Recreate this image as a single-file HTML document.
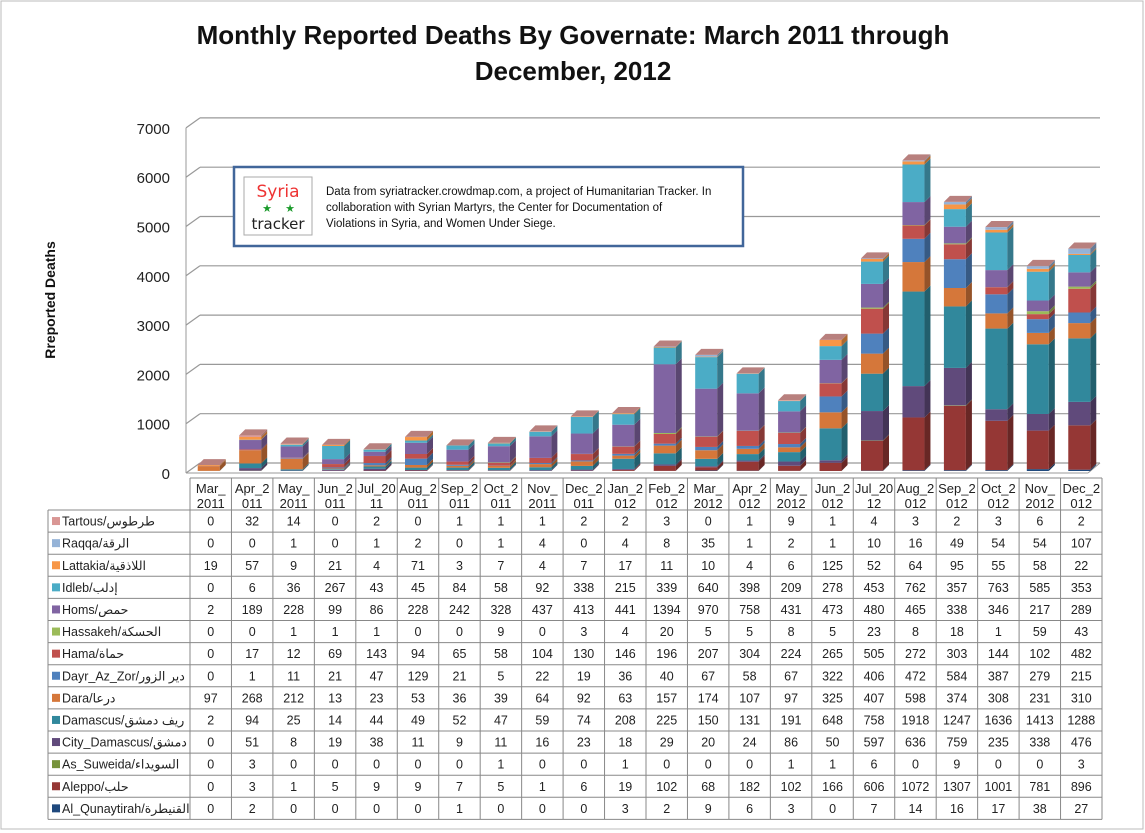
<!DOCTYPE html>
<html><head><meta charset="utf-8"><style>
body{margin:0;background:#fff;}
svg{display:block;font-family:"Liberation Sans","DejaVu Sans",sans-serif;}
</style></head><body>
<svg id="chart" width="1145" height="833" viewBox="0 0 1145 833" xmlns="http://www.w3.org/2000/svg">
<rect x="1" y="1" width="1142" height="828" fill="#fff" stroke="#bbb"/>
<text x="573" y="44" text-anchor="middle" font-size="26" font-weight="bold" fill="#111">Monthly Reported Deaths By Governate: March 2011 through</text>
<text x="573" y="80" text-anchor="middle" font-size="26" font-weight="bold" fill="#111">December, 2012</text>
<text transform="translate(55,300) rotate(-90)" text-anchor="middle" font-size="14" font-weight="bold" fill="#111">Rreported Deaths</text>
<g id="grid"></g>
<g id="bars"></g>
<g id="table"></g>
<g>
<rect x="234" y="167" width="509" height="79" fill="#fff" stroke="#41669a" stroke-width="2.5"/>
<rect x="244" y="177" width="68" height="58" fill="#fff" stroke="#aaa"/>
<text x="278" y="197" text-anchor="middle" font-size="17" fill="#e33" font-family="DejaVu Sans, sans-serif">Syria</text>
<text x="267" y="212" text-anchor="middle" font-size="11" fill="#1a9a2a">★</text>
<text x="290" y="212" text-anchor="middle" font-size="11" fill="#1a9a2a">★</text>
<text x="278" y="229" text-anchor="middle" font-size="15" fill="#222" font-family="DejaVu Sans, sans-serif">tracker</text>
<text x="326" y="195" font-size="11.5" fill="#111"><tspan x="326" y="195">Data from syriatracker.crowdmap.com, a project of Humanitarian Tracker. In</tspan><tspan x="326" y="211">collaboration with Syrian Martyrs, the Center for Documentation of</tspan><tspan x="326" y="227">Violations in Syria, and Women Under Siege.</tspan></text>
</g>
</svg>
<script>
const months1 = ["Mar_","Apr_2","May_","Jun_2","Jul_20","Aug_2","Sep_2","Oct_2","Nov_","Dec_2","Jan_2","Feb_2","Mar_","Apr_2","May_","Jun_2","Jul_20","Aug_2","Sep_2","Oct_2","Nov_","Dec_2"];
const months2 = ["2011","011","2011","011","11","011","011","011","2011","011","012","012","2012","012","2012","012","12","012","012","012","2012","012"];
const seriesNames = ["Tartous/طرطوس","Raqqa/الرقة","Lattakia/اللاذقية","Idleb/إدلب","Homs/حمص","Hassakeh/الحسكة","Hama/حماة","Dayr_Az_Zor/دير الزور","Dara/درعا","Damascus/ريف دمشق","City_Damascus/دمشق","As_Suweida/السويداء","Aleppo/حلب","Al_Qunaytirah/القنيطرة"];
const tartous = [0,32,14,0,2,0,1,1,1,2,2,3,0,1,9,1,4,3,2,3,6,2];
const raqqa = [0,0,1,0,1,2,0,1,4,0,4,8,35,1,2,1,10,16,49,54,54,107];
const lattakia = [19,57,9,21,4,71,3,7,4,7,17,11,10,4,6,125,52,64,95,55,58,22];
const idleb = [0,6,36,267,43,45,84,58,92,338,215,339,640,398,209,278,453,762,357,763,585,353];
const homs = [2,189,228,99,86,228,242,328,437,413,441,1394,970,758,431,473,480,465,338,346,217,289];
const hassakeh = [0,0,1,1,1,0,0,9,0,3,4,20,5,5,8,5,23,8,18,1,59,43];
const hama = [0,17,12,69,143,94,65,58,104,130,146,196,207,304,224,265,505,272,303,144,102,482];
const dayr = [0,1,11,21,47,129,21,5,22,19,36,40,67,58,67,322,406,472,584,387,279,215];
const dara = [97,268,212,13,23,53,36,39,64,92,63,157,174,107,97,325,407,598,374,308,231,310];
const damascus = [2,94,25,14,44,49,52,47,59,74,208,225,150,131,191,648,758,1918,1247,1636,1413,1288];
const cityDamascus = [0,51,8,19,38,11,9,11,16,23,18,29,20,24,86,50,597,636,759,235,338,476];
const asSuweida = [0,3,0,0,0,0,0,1,0,0,1,0,0,0,1,1,6,0,9,0,0,3];
const aleppo = [0,3,1,5,9,9,7,5,1,6,19,102,68,182,102,166,606,1072,1307,1001,781,896];
const qunaytirah = [0,2,0,0,0,0,1,0,0,0,3,2,9,6,3,0,7,14,16,17,38,27];
const yTicks = [0,1000,2000,3000,4000,5000,6000,7000];

const series = [tartous,raqqa,lattakia,idleb,homs,hassakeh,hama,dayr,dara,damascus,cityDamascus,asSuweida,aleppo,qunaytirah];
const colors = ["#d99694","#95b3d7","#f79646","#4bacc6","#8064a2","#9bbb59","#c0504d","#4f81bd","#d5773a","#31889c","#604a7b","#77933c","#953735","#1f497d"];
const NS="http://www.w3.org/2000/svg";
function mk(tag,attrs,parent){const e=document.createElementNS(NS,tag);for(const k in attrs)e.setAttribute(k,attrs[k]);parent.appendChild(e);return e;}
function shade(hex,f){const n=parseInt(hex.slice(1),16);let r=n>>16,g=(n>>8)&255,b=n&255;return `rgb(${Math.round(r*f)},${Math.round(g*f)},${Math.round(b*f)})`;}
const X0=190, CW=(1102-190)/22;
const yFront=v=>473-v*0.0493;
const yBack=v=>463-v*0.0493;
const yBar=v=>471-v*0.0493;
const colX=i=>X0+CW*i;

const grid=document.getElementById('grid');
yTicks.forEach(t=>{
  const l=mk('line',{x1:200,x2:1100,y1:yBack(t),y2:yBack(t),stroke:'#999','stroke-width':1.2},grid);
  
  
  mk('line',{x1:186,x2:200,y1:yFront(t),y2:yBack(t),stroke:'#999','stroke-width':1.2},grid);
  const tx=mk('text',{x:170,y:yFront(t)+6,'text-anchor':'end','font-size':15,fill:'#222'},grid);
  tx.textContent=t;
  
  
});
mk('line',{x1:186,x2:186,y1:yFront(7000),y2:yFront(0),stroke:'#999'},grid);
mk('line',{x1:186,x2:1088,y1:473,y2:473,stroke:'#999'},grid);
mk('line',{x1:1088,x2:1100,y1:473,y2:463,stroke:'#999'},grid);

const bars=document.getElementById('bars');
for(let i=0;i<22;i++){
  const cx=colX(i)+CW/2-2, w=22, dx=6, dy=6;
  let cum=0;
  for(let s=series.length-1;s>=0;s--){
    const v=series[s][i]; if(v<=0) continue;
    const y1=yBar(cum), y2=yBar(cum+v); cum+=v;
    const g=mk('g',{},bars);
    
    
    mk('rect',{x:cx-w/2,y:y2,width:w,height:y1-y2,fill:colors[s]},g);
    mk('polygon',{points:`${cx+w/2},${y1} ${cx+w/2+dx},${y1-dy} ${cx+w/2+dx},${y2-dy} ${cx+w/2},${y2}`,fill:shade(colors[s],0.7)},g);
  }
  if(cum>0){
    const yt=yBar(cum);
    mk('polygon',{points:`${cx-w/2},${yt} ${cx-w/2+dx},${yt-dy} ${cx+w/2+dx},${yt-dy} ${cx+w/2},${yt}`,fill:shade(colors[0],0.85)},bars);
  }
}

const tb=document.getElementById('table');
const rowTop=510, RH=22.1, bottom=rowTop+RH*14;
mk('line',{x1:X0,x2:1102,y1:478,y2:478,stroke:'#888'},tb);
mk('line',{x1:48,x2:1102,y1:rowTop,y2:rowTop,stroke:'#888'},tb);
for(let r=1;r<=14;r++) mk('line',{x1:48,x2:1102,y1:rowTop+RH*r,y2:rowTop+RH*r,stroke:'#888'},tb);
mk('line',{x1:48,x2:48,y1:rowTop,y2:bottom,stroke:'#888'},tb);
for(let i=0;i<=22;i++) mk('line',{x1:colX(i),x2:colX(i),y1:478,y2:bottom,stroke:'#888'},tb);
for(let i=0;i<22;i++){
  const cx=colX(i)+CW/2;
  const t1=mk('text',{x:cx,y:493,'text-anchor':'middle','font-size':13,fill:'#222'},tb);
  t1.textContent=months1[i];
  
  
  const t2=mk('text',{x:cx,y:508,'text-anchor':'middle','font-size':13,fill:'#222'},tb);
  t2.textContent=months2[i];
}
series.forEach((arr,s)=>{
  const yc=rowTop+RH*s+RH/2;
  const sw=mk('rect',{x:52,y:yc-4,width:8,height:8,fill:colors[s]},tb);
  
  
  const lt=mk('text',{x:62,y:yc+4.5,'font-size':12.5,fill:'#222'},tb);
  lt.textContent=seriesNames[s];
  
  
  arr.forEach((v,i)=>{
    const t=mk('text',{x:colX(i)+CW/2,y:yc+4.5,'text-anchor':'middle','font-size':12.5,fill:'#222'},tb);
    t.textContent=v;
    
    
  });
});
</script>
</body></html>
